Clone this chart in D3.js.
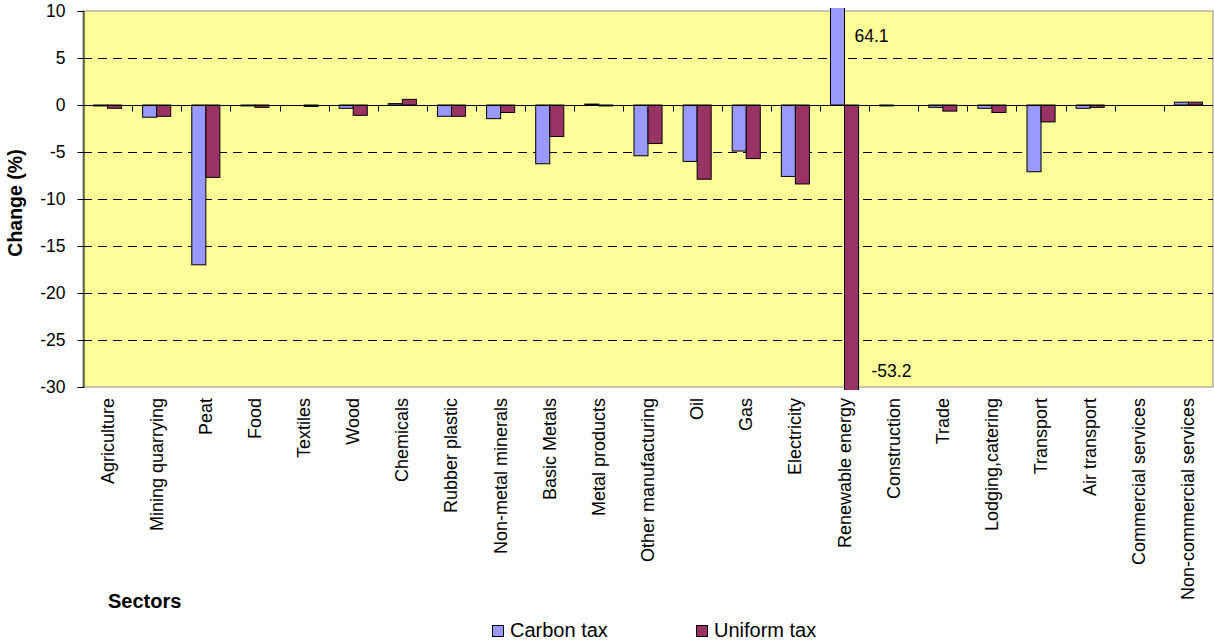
<!DOCTYPE html>
<html>
<head>
<meta charset="utf-8">
<script src="https://cdn.jsdelivr.net/npm/d3@7"></script>
<style>
  html, body { margin: 0; padding: 0; background: #fff; }
  svg { display: block; font-family: "Liberation Sans", Arial, sans-serif; }
</style>
</head>
<body>
<svg id="chart" width="1214" height="643"></svg>
<script>
// Sectors on the x axis
const sectors = [
  "Agriculture", "Mining quarrying", "Peat", "Food", "Textiles", "Wood",
  "Chemicals", "Rubber plastic", "Non-metal minerals", "Basic Metals",
  "Metal products", "Other manufacturing", "Oil", "Gas", "Electricity",
  "Renewable energy", "Construction", "Trade", "Lodging,catering",
  "Transport", "Air transport", "Commercial services", "Non-commercial services"
];

// Percentage change per sector under each policy
const carbonTax = [
  -0.1, -1.3, -17.0, -0.1, 0.0, -0.35,
  0.15, -1.2, -1.45, -6.25,
  0.1, -5.4, -6.0, -4.9, -7.6,
  64.1, -0.1, -0.25, -0.35,
  -7.1, -0.35, 0.0, 0.3
];
const uniformTax = [
  -0.35, -1.2, -7.7, -0.25, -0.15, -1.1,
  0.6, -1.2, -0.8, -3.35,
  -0.1, -4.1, -7.9, -5.7, -8.4,
  -53.2, 0.0, -0.65, -0.8,
  -1.8, -0.25, 0.0, 0.3
];

const seriesNames = ["Carbon tax", "Uniform tax"];
const seriesColors = ["#9999FF", "#993366"];
const yTicks = [10, 5, 0, -5, -10, -15, -20, -25, -30];
const yDomain = [-30, 10];

// plain hyphen-minus for negative numbers
const fmtInt = d => String(d);
const fmtOne = d => d.toFixed(1);

const svg = d3.select("#chart");
const plot = { left: 83, right: 1213, top: 11, bottom: 387 };

const x = d3.scaleBand().domain(sectors).range([plot.left, plot.right]).padding(0);
const xs = d3.scaleBand().domain(seriesNames).range([0, x.bandwidth()])
  .paddingInner(0).paddingOuter(0.75);
const y = d3.scaleLinear().domain(yDomain).range([plot.bottom, plot.top]);

// plot background
svg.append("rect")
  .attr("x", plot.left).attr("y", plot.top)
  .attr("width", plot.right - plot.left).attr("height", plot.bottom - plot.top)
  .attr("fill", "#FFFF99")
  .attr("stroke", "#8c8c8c").attr("stroke-width", 1);

// dashed horizontal gridlines
svg.append("g")
  .selectAll("line")
  .data(yTicks.filter(t => t !== 0 && t !== yDomain[0] && t !== yDomain[1]))
  .join("line")
  .attr("x1", plot.left).attr("x2", plot.right)
  .attr("y1", d => Math.round(y(d)) + 0.5).attr("y2", d => Math.round(y(d)) + 0.5)
  .attr("stroke", "#000").attr("stroke-width", 1)
  .attr("stroke-dasharray", "9,6");

// clip bars slightly beyond the plot frame
svg.append("defs").append("clipPath").attr("id", "plotClip")
  .append("rect")
  .attr("x", plot.left).attr("y", plot.top - 3)
  .attr("width", plot.right - plot.left).attr("height", plot.bottom - plot.top + 6);

const rows = sectors.map((s, i) => ({ sector: s, values: [carbonTax[i], uniformTax[i]] }));

const bars = svg.append("g").attr("clip-path", "url(#plotClip)");
rows.forEach(row => {
  row.values.forEach((v, k) => {
    if (v === 0) return;
    const y0 = y(0), y1 = y(v);
    bars.append("rect")
      .attr("x", x(row.sector) + xs(seriesNames[k]))
      .attr("y", Math.min(y0, y1))
      .attr("width", xs.bandwidth())
      .attr("height", Math.abs(y1 - y0))
      .attr("fill", seriesColors[k])
      .attr("stroke", "#000").attr("stroke-width", 1);
  });
});

// zero line with category tick marks
const zeroY = Math.round(y(0)) + 0.5;
svg.append("line")
  .attr("x1", plot.left).attr("x2", plot.right)
  .attr("y1", zeroY).attr("y2", zeroY)
  .attr("stroke", "#000").attr("stroke-width", 1);
svg.append("g")
  .selectAll("line")
  .data(sectors.slice(1))
  .join("line")
  .attr("x1", d => Math.round(x(d)) + 0.5).attr("x2", d => Math.round(x(d)) + 0.5)
  .attr("y1", zeroY).attr("y2", zeroY + 6)
  .attr("stroke", "#000").attr("stroke-width", 1);

// y axis
const yAxis = d3.axisLeft(y).tickValues(yTicks).tickSize(6).tickPadding(12).tickFormat(fmtInt);
const yg = svg.append("g").attr("transform", `translate(${plot.left + 0.5},0)`).call(yAxis);
yg.select(".domain").attr("stroke", "#000");
yg.selectAll(".tick line").attr("stroke", "#000");
yg.selectAll(".tick text")
  .attr("font-family", "Liberation Sans, Arial, sans-serif")
  .attr("font-size", 17.5).attr("fill", "#000");

// category labels, rotated
svg.append("g")
  .selectAll("text")
  .data(sectors)
  .join("text")
  .attr("transform", d => `translate(${x(d) + x.bandwidth() / 2 + 6},398) rotate(-90)`)
  .attr("text-anchor", "end")
  .attr("font-size", 18)
  .attr("fill", "#000")
  .text(d => d);

// value labels for the bars running off the scale
const reIdx = sectors.indexOf("Renewable energy");
svg.append("text")
  .attr("x", x(sectors[reIdx]) + xs("Carbon tax") + xs.bandwidth() + 10)
  .attr("y", 42)
  .attr("font-size", 17.5).attr("fill", "#000")
  .text(fmtOne(carbonTax[reIdx]));
svg.append("text")
  .attr("x", x(sectors[reIdx]) + xs("Uniform tax") + xs.bandwidth() + 13)
  .attr("y", 377)
  .attr("font-size", 17.5).attr("fill", "#000")
  .text(fmtOne(uniformTax[reIdx]));

// axis titles
svg.append("text")
  .attr("transform", "translate(22,203) rotate(-90)")
  .attr("text-anchor", "middle")
  .attr("font-size", 19.5).attr("font-weight", "bold").attr("fill", "#000")
  .text("Change (%)");
svg.append("text")
  .attr("x", 108).attr("y", 608)
  .attr("font-size", 20).attr("font-weight", "bold").attr("fill", "#000")
  .text("Sectors");

// legend
const legendX = [492, 696];
const legend = svg.append("g");
seriesNames.forEach((name, k) => {
  legend.append("rect")
    .attr("x", legendX[k] + 0.5).attr("y", 625.5)
    .attr("width", 11).attr("height", 11)
    .attr("fill", seriesColors[k]).attr("stroke", "#000").attr("stroke-width", 1);
  legend.append("text")
    .attr("x", legendX[k] + 18).attr("y", 637)
    .attr("font-size", 20).attr("fill", "#000")
    .text(name);
});
</script>
</body>
</html>
